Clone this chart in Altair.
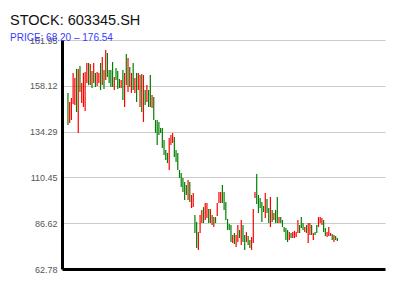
import altair as alt
import pandas as pd

title_text = "STOCK: 603345.SH"
subtitle_text = "PRICE: 68.20 – 176.54"
y_ticks = [62.78, 86.62, 110.45, 134.29, 158.12, 181.95]

opens = [
    154.4, 138.8, 140.3, 148.6, 148.1, 166.9, 133.6, 168.4, 149.2, 147.1,
    145.0, 159.6, 170.0, 158.5, 165.8, 159.6, 164.8, 158.0, 159.6, 170.0,
    158.5, 166.3, 161.1, 175.2, 166.3, 166.3, 170.5, 155.9, 167.4, 165.8,
    161.7, 157.0, 166.3, 147.1, 174.7, 154.9, 167.9, 154.4, 170.0, 154.4,
    164.8, 155.9, 147.1, 164.3, 139.3, 155.9, 149.7, 155.9, 163.7, 146.6,
    152.3, 140.3, 140.3, 139.3, 136.2, 136.2, 129.9, 124.7, 123.2, 114.3,
    127.3, 128.4, 131.5, 124.7, 123.2, 114.3, 112.7, 110.1, 108.1, 106.5,
    98.7, 108.1, 94.5, 95.0, 90.9, 87.2, 72.7, 81.5, 86.7, 95.0,
    88.3, 89.3, 94.0, 86.7, 90.9, 84.6, 89.8, 90.4, 97.1, 97.1,
    106.5, 102.9, 97.7, 88.8, 86.2, 85.7, 76.3, 81.5, 74.2, 76.8,
    83.1, 75.3, 85.7, 80.5, 76.8, 80.0, 77.9, 72.7, 76.3, 99.7,
    112.2, 101.3, 99.7, 97.7, 95.6, 89.3, 99.2, 94.5, 84.6, 93.5,
    88.3, 93.5, 100.3, 86.7, 89.8, 88.3, 84.6, 84.1, 83.1, 77.9,
    81.5, 78.9, 78.9, 79.4, 81.5, 85.7, 89.8, 86.7, 82.0, 85.7,
    76.3, 80.5, 85.7, 77.9, 82.0, 85.7, 84.6, 86.7, 85.7, 88.3,
    84.1, 79.4, 80.0, 80.0, 81.0, 76.8, 80.0, 78.9,
]
closes = [
    137.7, 149.7, 151.8, 164.8, 162.2, 144.5, 166.9, 154.9, 159.6, 164.8,
    165.3, 170.0, 158.5, 169.5, 157.0, 170.0, 157.5, 165.3, 164.8, 155.9,
    173.1, 156.5, 176.7, 162.7, 159.6, 157.5, 157.5, 162.7, 161.1, 156.5,
    157.0, 161.1, 150.7, 164.8, 158.5, 172.6, 157.5, 164.8, 155.9, 162.2,
    149.7, 164.8, 163.7, 144.5, 163.7, 148.1, 158.5, 147.1, 147.1, 153.3,
    140.3, 133.6, 127.3, 132.5, 133.6, 125.8, 122.1, 119.5, 117.9, 131.0,
    132.5, 133.6, 121.1, 118.5, 114.3, 110.1, 105.5, 102.9, 98.7, 101.3,
    109.1, 97.7, 101.3, 102.3, 81.5, 73.7, 82.0, 90.9, 93.5, 86.7,
    97.1, 97.1, 86.7, 94.0, 85.7, 89.8, 86.7, 97.1, 102.9, 102.9,
    97.1, 93.5, 88.3, 83.1, 83.1, 76.8, 80.5, 75.8, 80.5, 85.7,
    78.9, 88.3, 76.8, 72.7, 82.0, 75.3, 73.7, 79.4, 94.0, 102.9,
    96.6, 91.9, 94.5, 87.2, 92.4, 102.3, 91.9, 86.7, 100.3, 87.2,
    91.9, 86.7, 86.7, 89.8, 86.7, 84.6, 82.0, 77.9, 76.8, 82.0,
    78.9, 82.0, 82.6, 82.0, 88.3, 81.5, 84.1, 83.1, 84.6, 81.5,
    86.7, 86.7, 80.5, 81.5, 80.5, 81.5, 89.8, 89.8, 89.3, 82.0,
    80.0, 82.0, 84.6, 81.5, 77.9, 80.5, 77.9, 77.4,
]

df = pd.DataFrame({"i": list(range(len(opens))), "open": opens, "close": closes})

bars = alt.Chart(df).transform_calculate(
    dir="datum.close >= datum.open ? 'up' : 'down'"
).mark_bar(size=1.2).encode(
    x=alt.X("i:Q", scale=alt.Scale(domain=[-0.56, 181.85], nice=False, zero=False),
            axis=alt.Axis(labels=False, ticks=False, grid=False, title=None,
                          domainColor="black", domainWidth=3)),
    y=alt.Y("open:Q", scale=alt.Scale(domain=[y_ticks[0], y_ticks[-1]], nice=False, zero=False),
            axis=alt.Axis(values=y_ticks, format=".2f", title=None, ticks=False,
                          labelFontSize=9, labelColor="#555", labelFont="Liberation Sans",
                          labelPadding=5, grid=True, gridColor="#cccccc", gridWidth=1,
                          domainColor="black", domainWidth=3)),
    y2="close:Q",
    color=alt.Color("dir:N", scale=alt.Scale(domain=["up", "down"], range=["#ff0000", "#008000"]),
                    legend=None),
)

title = alt.Chart(pd.DataFrame({"t": [title_text]})).mark_text(
    align="left", baseline="alphabetic", fontSize=14.5, font="Liberation Sans", color="#111"
).encode(text="t:N", x=alt.value(-52), y=alt.value(-15))

subtitle = alt.Chart(pd.DataFrame({"t": [subtitle_text]})).mark_text(
    align="left", baseline="alphabetic", fontSize=10, font="Liberation Sans", color="#3a3aff"
).encode(text="t:N", x=alt.value(-52), y=alt.value(0.5))

chart = alt.layer(bars, title, subtitle).properties(
    width=323, height=229,
    autosize=alt.AutoSizeParams(type="none"),
    padding={"left": 62, "top": 40, "right": 15, "bottom": 31},
).configure_view(stroke=None)

chart.save("out.html", embed_options={"renderer": "svg", "actions": False})
